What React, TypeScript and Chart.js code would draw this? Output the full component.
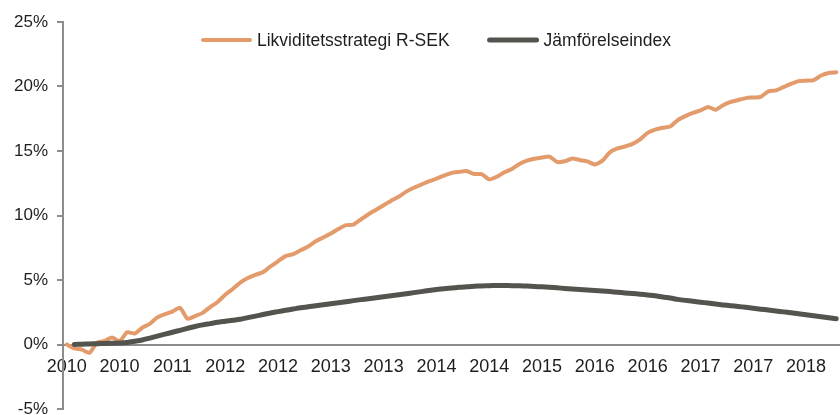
import React, { useEffect, useRef } from "react";
import { Chart, registerables } from "chart.js";

Chart.register(...registerables);

// Monthly observations, April 2010 .. October 2018
const startYear = 2010;
const startMonth = 4;
const monthCount = 103;
const categories: string[] = [];
for (let i = 0; i < monthCount; i++) {
  const m = startMonth - 1 + i;
  const y = startYear + Math.floor(m / 12);
  const mm = (m % 12) + 1;
  categories.push(`${y}-${mm < 10 ? "0" + mm : mm}`);
}

// x-axis labels shown every 7th month
const tickEvery = 7;
const tickLabels = [
  "2010", "2010", "2011", "2012", "2012", "2013", "2013", "2014",
  "2014", "2015", "2016", "2016", "2017", "2017", "2018",
];

const yTicks = [-5, 0, 5, 10, 15, 20, 25];

const seriesNames = ["Likviditetsstrategi R-SEK", "Jämförelseindex"];

const strategyValues = [
  0, -0.3, -0.4, -0.65, 0.15, 0.27, 0.55, 0.25, 0.95, 0.85,
  1.3, 1.6, 2.1, 2.35, 2.55, 2.85, 2.0, 2.2, 2.45, 2.9,
  3.3, 3.85, 4.3, 4.8, 5.15, 5.4, 5.6, 6.05, 6.45, 6.85,
  7.0, 7.3, 7.6, 8.0, 8.3, 8.6, 8.95, 9.25, 9.3, 9.7,
  10.1, 10.45, 10.8, 11.15, 11.45, 11.85, 12.15, 12.4, 12.65, 12.85,
  13.1, 13.3, 13.38, 13.45, 13.22, 13.2, 12.8, 13.0, 13.35, 13.6,
  14.0, 14.25, 14.4, 14.5, 14.57, 14.15, 14.2, 14.42, 14.3, 14.2,
  13.95, 14.25, 14.9, 15.2, 15.35, 15.55, 15.9, 16.4, 16.65, 16.8,
  16.9, 17.4, 17.7, 17.95, 18.15, 18.42, 18.2, 18.55, 18.8, 18.95,
  19.1, 19.15, 19.2, 19.62, 19.7, 19.95, 20.2, 20.42, 20.45, 20.5,
  20.85, 21.05, 21.1,
];

const benchmarkValues: (number | null)[] = [
  null, 0.0, 0.02, 0.04, 0.06, 0.08, 0.1, 0.12, 0.16, 0.25,
  0.35, 0.5, 0.65, 0.8, 0.95, 1.1, 1.25, 1.4, 1.52, 1.62,
  1.72, 1.8, 1.88, 1.96, 2.08, 2.2, 2.32, 2.44, 2.55, 2.65,
  2.75, 2.85, 2.92, 3.0, 3.08, 3.16, 3.24, 3.32, 3.4, 3.48,
  3.55, 3.62, 3.7, 3.78, 3.86, 3.94, 4.02, 4.1, 4.18, 4.26,
  4.33, 4.38, 4.43, 4.48, 4.51, 4.54, 4.56, 4.57, 4.57, 4.56,
  4.55, 4.53, 4.5, 4.47, 4.43, 4.39, 4.35, 4.3, 4.26, 4.22,
  4.18, 4.14, 4.1, 4.05, 4.0, 3.95, 3.9, 3.84, 3.78, 3.68,
  3.6, 3.5, 3.42, 3.35, 3.28, 3.21, 3.14, 3.07, 3.01, 2.95,
  2.88, 2.81, 2.74, 2.67, 2.6, 2.53, 2.46, 2.39, 2.31, 2.23,
  2.15, 2.07, 2.0,
];

const ORANGE = "#E39B6B";
const DARK = "#55534D";
const AXIS = "#8C8C8C";
const TEXT = "#1E1E1E";
const FONT = "'Liberation Sans', Arial, sans-serif";

const legendPlugin = {
  id: "lineLegend",
  afterDraw(chart: any) {
    const ctx = chart.ctx;
    const fontSize = 17.5;
    const boxW = 52;
    const gapText = 5;
    const itemGap = 37;
    ctx.save();
    ctx.font = `${fontSize}px ${FONT}`;
    let x = 200;
    const y = 40;
    ctx.textBaseline = "middle";
    ctx.textAlign = "left";
    for (const ds of chart.data.datasets as any[]) {
      ctx.strokeStyle = ds.borderColor;
      ctx.lineWidth = ds.borderWidth;
      ctx.lineCap = "round";
      ctx.beginPath();
      ctx.moveTo(x + 3, y);
      ctx.lineTo(x + boxW - 2, y);
      ctx.stroke();
      ctx.fillStyle = TEXT;
      ctx.fillText(ds.label, x + boxW + gapText, y + 1);
      x += boxW + gapText + ctx.measureText(ds.label).width + itemGap;
    }
    ctx.restore();
  },
};

export default function App() {
  const canvasRef = useRef<HTMLCanvasElement | null>(null);

  useEffect(() => {
    if (!canvasRef.current) return;
    const chart = new Chart(canvasRef.current, {
      type: "line",
      data: {
        labels: categories,
        datasets: [
          {
            label: seriesNames[0],
            data: strategyValues,
            borderColor: ORANGE,
            backgroundColor: ORANGE,
            borderWidth: 4,
            pointRadius: 0,
            tension: 0.2,
            borderCapStyle: "round",
            borderJoinStyle: "round",
            order: 2,
          },
          {
            label: seriesNames[1],
            data: benchmarkValues,
            borderColor: DARK,
            backgroundColor: DARK,
            borderWidth: 5,
            pointRadius: 0,
            tension: 0.3,
            borderCapStyle: "round",
            borderJoinStyle: "round",
            order: 1,
          },
        ],
      },
      options: {
        animation: false,
        responsive: true,
        maintainAspectRatio: false,
        layout: { padding: { left: 5, right: 0, top: 22, bottom: 6 } },
        plugins: {
          legend: { display: false },
          tooltip: { enabled: false },
        },
        scales: {
          x: {
            type: "category",
            position: { y: 0 } as any,
            offset: true,
            grid: { display: false, drawTicks: false },
            border: { display: true, color: AXIS, width: 2 },
            afterFit: (scale: any) => {
              scale.paddingLeft = 0;
              scale.paddingRight = 0;
            },
            ticks: {
              autoSkip: false,
              maxRotation: 0,
              minRotation: 0,
              padding: 12,
              color: TEXT,
              font: { family: FONT, size: 18 },
              callback: (_v: any, index: number) =>
                index % tickEvery === 0 ? tickLabels[index / tickEvery] ?? "" : "",
            },
          },
          y: {
            min: yTicks[0],
            max: yTicks[yTicks.length - 1],
            afterBuildTicks: (scale: any) => {
              scale.ticks = yTicks.map((v) => ({ value: v }));
            },
            afterFit: (scale: any) => {
              scale.paddingTop = 0;
              scale.paddingBottom = 0;
            },
            grid: {
              display: true,
              drawOnChartArea: false,
              drawTicks: true,
              tickLength: 6,
              color: AXIS,
              lineWidth: 2,
            },
            border: { display: true, color: AXIS, width: 2 },
            ticks: {
              padding: 9,
              color: TEXT,
              font: { family: FONT, size: 17 },
              callback: (v: any) => `${v}%`,
            },
          },
        },
      },
      plugins: [legendPlugin],
    });
    return () => chart.destroy();
  }, []);

  return (
    <div
      style={{
        position: "fixed",
        left: 0,
        top: 0,
        width: 840,
        height: 415,
        background: "#fff",
      }}
    >
      <canvas ref={canvasRef} />
    </div>
  );
}
